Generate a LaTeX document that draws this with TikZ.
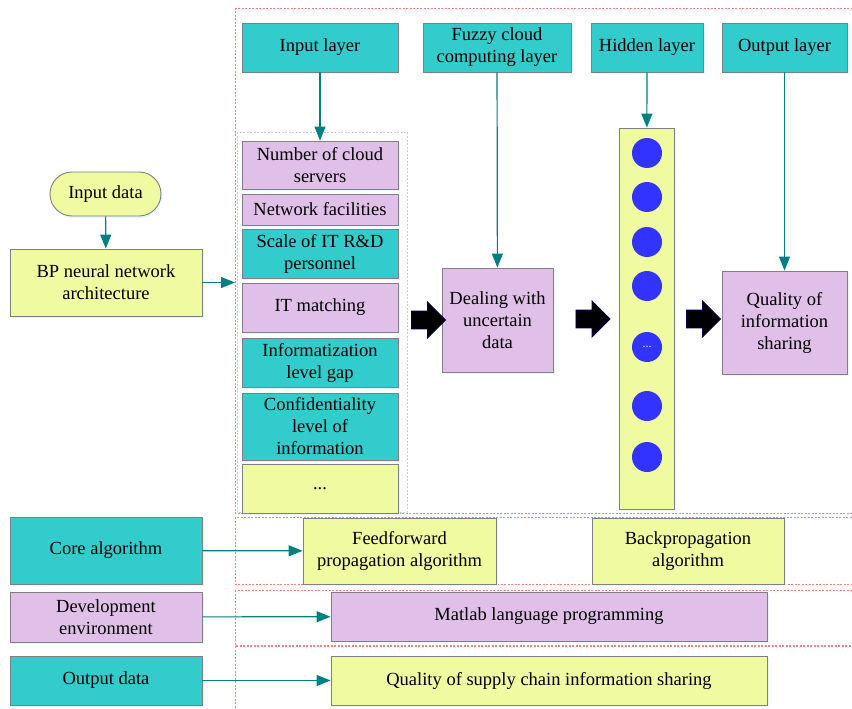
\documentclass[tikz,border=0pt]{standalone}
\usepackage{fontspec}
\setmainfont{Liberation Serif}
\usetikzlibrary{arrows.meta,shapes.arrows,shadows}
\definecolor{ccyan}{RGB}{51,204,204}
\definecolor{clilac}{RGB}{224,192,232}
\definecolor{clemon}{RGB}{240,250,160}
\definecolor{cflow}{RGB}{0,128,128}
\definecolor{cframe}{RGB}{128,128,128}
\definecolor{cdash}{RGB}{245,130,130}
\definecolor{cneuron}{RGB}{51,51,255}
\begin{document}
\begin{tikzpicture}[
    x=1pt, y=-1pt,
    every node/.style={font=\fontsize{18.5}{22}\selectfont, align=center, inner sep=1pt},
    box/.style={draw=cframe, line width=0.9pt,
                drop shadow={fill=cyan!12, opacity=0.8, shadow xshift=1.5pt, shadow yshift=-2pt}},
    cyanbox/.style={box, fill=ccyan},
    lilacbox/.style={box, fill=clilac},
    lemonbox/.style={box, fill=clemon},
    neuron/.style={circle, fill=cneuron, minimum size=30pt, inner sep=0pt,
                   font=\fontsize{12}{12}\selectfont, text=white},
    bigarrow/.style={single arrow, fill=black, draw=black!70!blue, line width=0.8pt,
                     inner xsep=0pt, inner ysep=8.5pt, minimum height=34pt,
                     single arrow head extend=9pt},
    flow/.style={draw=cflow, line width=1.2pt, -{Triangle[length=14pt,width=11pt]}},
    redframe/.style={draw=cdash, line width=0.6pt, dash pattern=on 2pt off 1.5pt},
    greyframe/.style={draw=black!20, line width=0.6pt, dash pattern=on 2pt off 1.5pt},
]
  \useasboundingbox (0,0) rectangle (852,709);

  % dashed frames
  \draw [redframe]  (235,8)   rectangle (870,513);
  \draw [greyframe] (237,132) rectangle (407,512);
  \draw [redframe]  (235,517) rectangle (870,584);
  \draw [redframe]  (235,590) rectangle (870,645);
  \draw [redframe]  (235,646) rectangle (870,730);

  % input factors
  \node [lilacbox, minimum width=156pt, minimum height=48pt] (servers)  at (320,165)   {Number of cloud\\servers};
  \node [lilacbox, minimum width=156pt, minimum height=31pt] (network)  at (320,209.5) {Network facilities};
  \node [cyanbox,  minimum width=156pt, minimum height=49pt] (scale)    at (320,253.5) {Scale of IT R\&D\\personnel};
  \node [lilacbox, minimum width=156pt, minimum height=49pt] (matching) at (320,307.5) {IT matching};
  \node [cyanbox,  minimum width=156pt, minimum height=49pt] (gap)      at (320,362.5) {Informatization\\level gap};
  \node [cyanbox,  minimum width=156pt, minimum height=67pt] (secrecy)  at (320,426.5) {Confidentiality\\level of\\information};
  \node [lemonbox, minimum width=156pt, minimum height=49pt] (more)     at (320,488.5) {...};

  % processing
  \node [lilacbox, minimum width=111pt, minimum height=104pt] (dealing) at (497.5,320)  {Dealing with\\uncertain\\data};
  \node [lemonbox, minimum width=55pt,  minimum height=381pt] (hidcol)  at (646.5,318.5) {};
  \node [lilacbox, minimum width=125pt, minimum height=103pt] (quality) at (784.5,322.5) {Quality of\\information\\sharing};

  \node [neuron] (n1) at (647,153) {};
  \node [neuron] (n2) at (647,197) {};
  \node [neuron] (n3) at (647,242) {};
  \node [neuron] (n4) at (647,286) {};
  \node [neuron] (n5) at (647,347) {...};
  \node [neuron] (n6) at (647,406) {};
  \node [neuron] (n7) at (647,457) {};

  \node [bigarrow] (step1) at (424,320)   {};
  \node [bigarrow] (step2) at (588.5,319) {};
  \node [bigarrow] (step3) at (699,319)   {};

  % layers
  \node [cyanbox, minimum width=156pt, minimum height=49pt] (inlayer)  at (320,47.5)   {Input layer}      edge [flow] (servers);
  \node [cyanbox, minimum width=148pt, minimum height=49pt] (fuzzy)    at (497,47.5)   {Fuzzy cloud\\computing layer} edge [flow] (dealing);
  \node [cyanbox, minimum width=112pt, minimum height=49pt] (hidlayer) at (647,47.5)   {Hidden layer}     edge [flow] (hidcol);
  \node [cyanbox, minimum width=125pt, minimum height=49pt] (outlayer) at (784.5,47.5) {Output layer}     edge [flow] (quality);

  % bottom rows
  \node [lemonbox, minimum width=193pt, minimum height=66pt] (ffwd)     at (399.5,551) {Feedforward\\propagation algorithm};
  \node [lemonbox, minimum width=192pt, minimum height=66pt] (backprop) at (688,551)   {Backpropagation\\algorithm};
  \node [lilacbox, minimum width=436pt, minimum height=49pt] (matlab)   at (549,616.5) {Matlab language programming};
  \node [lemonbox, minimum width=436pt, minimum height=49pt] (supply)   at (549,680.5) {Quality of supply chain information sharing};

  % left column
  \coordinate (listin) at (235,282.5);
  \node [lemonbox, minimum width=192pt, minimum height=67pt] (bp)      at (106,282.5) {BP neural network\\architecture} edge [flow] (listin);
  \node [lemonbox, rounded corners=22pt, minimum width=111pt, minimum height=44pt] (indata) at (105.5,194) {Input data} edge [flow] (bp);
  \node [cyanbox,  minimum width=192pt, minimum height=67pt] (core)    at (106,550.5) {Core algorithm}   edge [flow] (ffwd);
  \node [lilacbox, minimum width=192pt, minimum height=50pt] (devenv)  at (106,617)   {Development\\environment} edge [flow] (matlab);
  \node [cyanbox,  minimum width=192pt, minimum height=49pt] (outdata) at (106,680.5) {Output data}      edge [flow] (supply);
\end{tikzpicture}
\end{document}
